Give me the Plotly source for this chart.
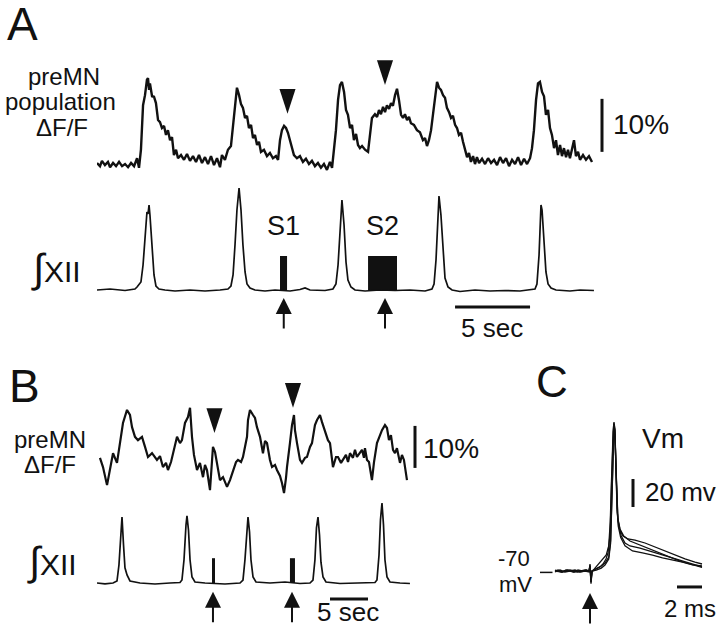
import plotly.graph_objects as go

W, H = 720, 630
FONT = "Liberation Sans, Arial, sans-serif"
INK = "#111111"

# ---- panel A: preMN population dF/F (time s, %) ----
dff_a_t = [0.0, 0.2, 0.33, 0.53, 0.73, 0.87, 1.07, 1.27, 1.47, 1.67, 1.87, 2.07, 2.27, 2.47, 2.67, 2.8,
           2.93, 3.07, 3.2, 3.33, 3.4, 3.47, 3.53, 3.67, 3.8, 3.93, 4.07, 4.2, 4.33, 4.47, 4.6, 4.73,
           4.87, 5.0, 5.13, 5.27, 5.4, 5.6, 5.8, 6.0, 6.2, 6.4, 6.6, 6.8, 7.0, 7.2, 7.4, 7.6, 7.8, 8.0,
           8.2, 8.33, 8.53, 8.73, 8.93, 9.07, 9.2, 9.33, 9.47, 9.6, 9.73, 9.87, 10.0, 10.13, 10.27, 10.4,
           10.53, 10.67, 10.8, 10.93, 11.13, 11.33, 11.53, 11.73, 11.93, 12.07, 12.2, 12.33, 12.47, 12.6,
           12.73, 12.87, 13.0, 13.13, 13.33, 13.53, 13.73, 13.93, 14.13, 14.33, 14.53, 14.73, 14.93,
           15.13, 15.33, 15.53, 15.67, 15.8, 15.93, 16.07, 16.2, 16.33, 16.47, 16.6, 16.73, 16.87, 17.0,
           17.13, 17.27, 17.4, 17.53, 17.67, 17.87, 18.07, 18.2, 18.33, 18.53, 18.67, 18.8, 18.93, 19.07,
           19.2, 19.33, 19.47, 19.6, 19.73, 19.87, 20.0, 20.13, 20.27, 20.4, 20.53, 20.67, 20.8, 20.93,
           21.13, 21.33, 21.53, 21.73, 21.87, 22.0, 22.13, 22.27, 22.4, 22.53, 22.67, 22.8, 22.93, 23.07,
           23.2, 23.33, 23.47, 23.6, 23.73, 23.87, 24.0, 24.13, 24.27, 24.4, 24.53, 24.67, 24.8, 24.93,
           25.07, 25.2, 25.33, 25.47, 25.67, 25.87, 26.07, 26.27, 26.47, 26.67, 26.87, 27.07, 27.27,
           27.47, 27.67, 27.87, 28.07, 28.27, 28.47, 28.67, 28.87, 29.0, 29.13, 29.27, 29.4, 29.53,
           29.67, 29.8, 29.93, 30.07, 30.2, 30.33, 30.47, 30.6, 30.73, 30.87, 31.0, 31.13, 31.27, 31.4,
           31.53, 31.67, 31.8, 31.93, 32.07, 32.2, 32.4, 32.6, 32.8, 33.0]
dff_a = [0.0, -0.6, 0.4, -0.4, 0.2, -0.8, 0.0, -0.6, 0.2, -0.6, -0.2, -0.8, 0.0, -0.6, 0.9, -0.9,
         2.5, 10.9, 12.8, 15.7, 16.0, 13.8, 15.0, 12.6, 12.5, 11.3, 8.1, 7.7, 6.6, 7.0, 5.3, 6.2,
         4.3, 4.9, 1.5, 2.5, 0.9, 1.5, 0.6, 1.7, 0.4, 1.3, 0.2, 1.5, 0.0, 1.1, -0.2, 1.3, -0.4, 0.9,
         -0.8, 1.5, 0.6, 2.5, 3.2, 7.2, 11.9, 14.2, 12.8, 11.1, 10.4, 8.5, 8.9, 6.6, 7.2, 4.7,
         5.3, 3.4, 4.0, 2.1, 2.5, 1.3, 1.9, 0.9, 1.3, 0.6, 4.3, 6.2, 7.0, 6.6,
         5.7, 4.3, 2.5, 1.5, 0.9, 1.3, 0.2, 0.8, -0.2, 0.4, -0.6, 0.0, -0.9,
         -0.2, -1.3, 0.2, -0.9, 2.5, 6.2, 11.9, 14.7, 15.3, 13.4, 10.0, 9.1, 6.6, 7.2,
         4.3, 5.5, 3.4, 2.8, 3.2, 2.5, 2.1, 5.3, 8.5, 9.2, 8.7, 10.0, 9.2, 10.6,
         9.6, 10.9, 10.2, 11.3, 10.8, 12.8, 14.0, 11.9, 9.1, 8.5, 9.2, 8.1, 8.7, 7.5,
         7.2, 6.2, 5.8, 4.3, 4.7, 3.2, 4.3, 6.2, 9.1, 12.8, 15.3, 14.2, 13.8, 12.8,
         12.3, 10.4, 9.6, 8.5, 8.9, 7.2, 6.6, 5.3, 5.7, 4.0, 2.5, 1.1, 1.9, 0.2,
         1.3, -0.2, 1.1, 0.0, 0.8, -0.2, 0.9, 0.0, 0.6, -0.4, 1.1, 0.0, 0.9,
         -0.6, 0.6, -0.2, 1.1, -0.4, 0.8, -0.2, 0.9, 2.8, 6.2, 11.9, 15.0, 15.3,
         13.4, 12.6, 9.1, 10.0, 6.6, 5.3, 2.8, 4.3, 1.5, 3.4, 1.3, 2.8, 1.1, 2.5,
         0.9, 2.8, 4.3, 1.3, 2.1, 0.6, 1.5, 0.6, 1.3, 0.2]

# ---- panel A: integrated XII (time s, normalised) ----
xii_a_t = [0.0, 0.87, 1.87, 2.53, 2.67, 2.8, 2.93, 3.07, 3.2, 3.33, 3.4, 3.47, 3.53, 3.67, 3.8, 3.93,
           4.13, 4.53, 5.2, 6.2, 7.2, 8.2, 8.73, 8.93, 9.07, 9.2, 9.33, 9.47, 9.6, 9.73, 9.87, 10.0,
           10.2, 10.53, 11.2, 11.87, 12.87, 13.53, 13.87, 14.2, 15.2, 15.73, 15.93, 16.07, 16.2, 16.33,
           16.47, 16.6, 16.73, 16.93, 17.2, 17.87, 18.87, 19.87, 20.87, 21.87, 22.33, 22.47, 22.6,
           22.73, 22.8, 22.93, 23.07, 23.2, 23.4, 23.67, 24.2, 25.2, 26.2, 27.2, 28.2, 28.87, 29.2,
           29.33, 29.47, 29.53, 29.6, 29.67, 29.8, 29.93, 30.07, 30.27, 30.6, 31.53, 32.2, 33.13]
xii_a = [0.0, 0.01, -0.005, 0.01, 0.03, 0.05, 0.08, 0.25, 0.55, 0.78, 0.76, 0.85, 0.75, 0.45, 0.15, 0.04,
         0.01, 0.0, -0.01, 0.0, -0.01, 0.0, 0.01, 0.04, 0.15, 0.45, 0.8, 1.02, 0.8, 0.45, 0.18, 0.06,
         0.02, 0.0, -0.01, 0.0, -0.01, 0.005, 0.02, 0.0, -0.005, 0.01, 0.06, 0.25, 0.65, 0.9,
         0.65, 0.28, 0.1, 0.03, 0.0, -0.01, 0.0, -0.005, 0.0, -0.01, 0.01, 0.06, 0.3,
         0.75, 0.94, 0.75, 0.35, 0.12, 0.03, 0.0, -0.015, 0.0, -0.01, -0.005, -0.01, 0.0, 0.01,
         0.06, 0.35, 0.58, 0.85, 0.8, 0.45, 0.18, 0.06, 0.02, 0.0, -0.01, 0.0, -0.005]

stim_a_on = [12.2, 18.07]
stim_a_off = [12.67, 20.0]
stim_a_amp = 0.34
stim_a_labels = ["S1", "S2"]
arrow_a_t = [12.45, 19.2]
mark_a_t = [12.7, 19.2]
mark_a_level = [9.3, 14.7]

# ---- panel B ----
dff_b_t = [0.39, 0.79, 1.32, 1.71, 2.11, 2.63, 3.03, 3.42, 3.95, 4.34, 4.61, 5.0, 5.39, 5.92, 6.32,
           6.71, 7.24, 7.89, 8.29, 8.68, 9.08, 9.34, 9.74, 10.0, 10.26, 10.53, 10.92, 11.18, 11.58,
           11.97, 12.24, 12.5, 12.76, 13.16, 13.55, 13.95, 14.21, 14.47, 14.87, 15.13, 15.26, 15.53,
           15.79, 16.18, 16.58, 17.11, 17.5, 17.89, 18.29, 18.55, 18.95, 19.21, 19.47, 19.74, 19.87,
           20.13, 20.53, 20.79, 21.05, 21.45, 21.84, 22.11, 22.37, 22.76, 23.03, 23.42, 23.68, 24.08,
           24.34, 24.61, 24.87, 25.0, 25.39, 25.66, 25.92, 26.05, 26.32, 26.71, 26.97, 27.37, 27.63,
           28.03, 28.29, 28.68, 28.95, 29.34, 29.61, 30.0, 30.39, 30.66, 31.05, 31.45, 31.71, 32.11,
           32.37, 32.76, 33.03, 33.29, 33.68, 33.95, 34.21, 34.61, 34.87, 35.13, 35.26, 35.53, 35.79,
           36.18, 36.45, 36.84, 37.11, 37.5, 37.89, 38.16, 38.42, 38.68, 38.95, 39.21, 39.47, 39.87,
           40.13, 40.39, 40.79]
dff_b = [2.9, 0.7, -3.6, 0.0, 4.0, 1.7, 6.7, 11.2, 14.3, 13.1, 10.2, 7.9, 7.1, 7.9, 5.5,
         3.1, 4.0, 2.4, 3.3, 0.7, 1.7, 0.0, 1.9, 4.0, 6.0, 7.9, 6.4, 7.1, 11.2,
         12.6, 14.8, 7.9, 3.6, 0.0, 1.7, -1.7, 1.2, 0.0, -4.8, 1.9, 5.5, 4.3,
         1.7, -2.4, -1.7, -4.0, -2.4, 0.0, 1.9, 2.4, 1.9, 3.1, 6.0, 7.9, 11.9,
         14.3, 13.1, 12.4, 10.2, 7.9, 4.0, 6.9, 6.4, 2.4, 0.7, 1.2, 0.0, -1.4,
         -3.1, -5.5, -1.9, 0.7, 6.4, 10.7, 13.1, 9.5, 6.4, 2.4, 1.7, 2.9, 3.1,
         5.5, 6.4, 10.7, 11.9, 13.1, 11.4, 9.5, 7.1, 6.4, 0.7, 3.1, 3.1, 1.7,
         2.4, 3.6, 1.9, 4.0, 2.9, 4.8, 3.1, 4.3, 4.8, 2.9, 5.2, 2.4, 1.9,
         -2.4, 1.9, 6.4, 7.9, 9.5, 10.7, 10.0, 7.1, 8.3, 4.8, 4.0, 5.2, 1.7,
         3.6, 2.4, -2.4]

xii_b_t = [0.0, 1.05, 2.11, 2.63, 2.89, 3.09, 3.29, 3.49, 3.68, 3.95, 4.34, 5.66, 7.63, 9.61, 10.92,
           11.18, 11.45, 11.71, 11.84, 12.04, 12.24, 12.5, 12.89, 14.21, 16.84, 18.82, 19.21, 19.47,
           19.74, 19.87, 20.07, 20.26, 20.53, 20.92, 22.76, 24.74, 26.71, 28.03, 28.42, 28.68, 28.88,
           29.08, 29.28, 29.47, 29.74, 30.13, 31.97, 34.61, 36.58, 36.84, 37.11, 37.3, 37.5, 37.7,
           37.89, 38.16, 38.55, 39.87, 41.18]
xii_b = [0.0, -0.01, 0.0, 0.025, 0.225, 0.54, 0.825, 0.475, 0.19, 0.1, 0.025, 0.0, -0.0125, 0.0, 0.006,
         0.0375, 0.29, 0.725, 0.84, 0.66, 0.29, 0.075, 0.0125, 0.0, -0.0125, 0.0, 0.0375, 0.29,
         0.725, 0.825, 0.64, 0.29, 0.075, 0.0125, 0.0, 0.0125, -0.006, 0.0, 0.0375, 0.29, 0.69,
         0.825, 0.6, 0.26, 0.075, 0.0125, -0.006, 0.0, 0.006, 0.0375, 0.35, 0.79, 1.0, 0.725,
         0.29, 0.075, 0.0125, 0.0, -0.006]

stim_b_on = [15.13, 25.39]
stim_b_off = [15.53, 26.05]
stim_b_amp = 0.31
arrow_b_t = [15.26, 25.66]
mark_b_t = [15.46, 25.79]
mark_b_level = [8.8, 14.8]

# ---- panel C: Vm sweeps (ms, mV) ----
vm_t1 = [0.0, 0.24, 0.56, 0.88, 1.2, 1.52, 1.84, 2.16, 2.48, 2.72, 2.8, 2.88, 2.96, 3.28, 3.6, 3.84,
         4.08, 4.24, 4.4, 4.48, 4.56, 4.64, 4.72, 4.8, 4.88, 4.96, 5.04, 5.2, 5.44, 5.84, 6.4, 7.2,
         8.0, 8.8, 9.6, 10.4, 11.2, 11.76]
vm_1 = [-70.0, -69.3, -70.7, -69.3, -70.0, -70.7, -69.3, -70.0, -69.3, -70.0, -66.4, -77.9, -70.0,
        -68.6, -67.1, -65.0, -61.4, -57.1, -44.3, -22.9, 5.7, 29.3, 36.4, 30.7, 2.1, -22.9, -33.6,
        -40.7, -45.0, -47.1, -47.9, -50.0, -52.9, -55.7, -58.6, -61.4, -63.6, -65.0]
vm_t2 = [0.0, 0.4, 0.8, 1.2, 1.6, 2.0, 2.4, 2.72, 2.8, 2.88, 2.96, 3.3, 3.7, 4.0, 4.3, 4.45, 4.55,
         4.63, 4.7, 4.74, 4.8, 4.9, 4.98, 5.1, 5.3, 5.6, 6.0, 6.8, 7.6, 8.4, 9.2, 10.0, 10.8, 11.6, 11.76]
vm_2 = [-70.7, -69.3, -70.7, -70.0, -69.3, -70.7, -70.0, -70.0, -65.0, -76.4, -70.0, -69.3, -67.9,
        -65.7, -61.4, -50.0, -25.0, 5.0, 30.0, 35.0, 28.0, -5.0, -28.0, -38.0, -45.0, -50.0, -52.1,
        -53.6, -55.7, -57.9, -60.0, -62.1, -64.3, -66.4, -67.0]
vm_t3 = [0.0, 0.5, 1.0, 1.5, 2.0, 2.5, 2.72, 2.8, 2.88, 2.96, 3.2, 3.5, 3.8, 4.1, 4.3, 4.42, 4.52,
         4.62, 4.7, 4.78, 4.86, 4.94, 5.02, 5.2, 5.5, 6.0, 6.8, 7.6, 8.4, 9.2, 10.0, 10.8, 11.6, 11.76]
vm_3 = [-69.3, -70.7, -69.3, -70.7, -70.0, -69.3, -70.0, -67.0, -79.0, -70.7, -67.9, -65.0, -62.1,
        -58.6, -52.0, -35.0, -5.0, 25.0, 35.5, 31.0, 5.0, -20.0, -32.0, -40.0, -45.0, -48.6, -51.4,
        -54.3, -57.1, -60.0, -62.9, -65.0, -67.1, -67.5]
vm_t4 = [0.0, 0.6, 1.2, 1.8, 2.4, 2.72, 2.8, 2.88, 2.96, 3.3, 3.7, 4.0, 4.3, 4.45, 4.55, 4.64, 4.72,
         4.8, 4.88, 4.96, 5.06, 5.25, 5.6, 6.2, 7.0, 7.8, 8.6, 9.4, 10.2, 11.0, 11.76]
vm_4 = [-70.0, -70.7, -69.3, -70.7, -70.0, -70.7, -66.0, -78.0, -70.0, -68.6, -66.4, -64.3, -60.0,
        -48.0, -20.0, 15.0, 34.0, 27.0, 0.0, -25.0, -38.0, -46.0, -52.0, -55.7, -57.1, -58.6, -60.7,
        -62.1, -63.6, -65.7, -66.4]
arrow_c_t = [2.8]
rest_mv = -70

fig = go.Figure()


def xdom(a, b):
    return [a / W, b / W]


def ydom(top, bottom):
    return [1 - bottom / H, 1 - top / H]


def line(x, y, xa, ya, w=2.0):
    fig.add_trace(go.Scatter(x=x, y=y, xaxis=xa, yaxis=ya, mode="lines",
                             line=dict(color=INK, width=w), hoverinfo="skip"))


def stim_bars(on, off, amp, xa, ya):
    fig.add_trace(go.Bar(x=[(a + b) / 2 for a, b in zip(on, off)], y=[amp] * len(on),
                         width=[b - a for a, b in zip(on, off)], xaxis=xa, yaxis=ya,
                         marker=dict(color=INK, line=dict(width=0)), hoverinfo="skip"))


def marks(t, lv, xa, ya):
    fig.add_trace(go.Scatter(x=t, y=lv, xaxis=xa, yaxis=ya, mode="markers",
                             marker=dict(symbol="arrow", angle=180, size=26, color=INK),
                             hoverinfo="skip"))


line(dff_a_t, dff_a, "x", "y", 2.4)
line(xii_a_t, xii_a, "x", "y2", 1.7)
stim_bars(stim_a_on, stim_a_off, stim_a_amp, "x", "y2")
marks(mark_a_t, mark_a_level, "x", "y")

line(dff_b_t, dff_b, "x3", "y3", 2.2)
line(xii_b_t, xii_b, "x3", "y4", 1.7)
stim_bars(stim_b_on, stim_b_off, stim_b_amp, "x3", "y4")
marks(mark_b_t, mark_b_level, "x3", "y3")

for tt, vv in [(vm_t1, vm_1), (vm_t2, vm_2), (vm_t3, vm_3), (vm_t4, vm_4)]:
    line(tt, vv, "x5", "y5", 1.3)

ax = dict(visible=False, showgrid=False, zeroline=False, fixedrange=True)
fig.update_layout(
    width=W, height=H, margin=dict(l=0, r=0, t=0, b=0),
    paper_bgcolor="white", plot_bgcolor="white", showlegend=False,
    font=dict(family=FONT, color=INK),
    xaxis=dict(domain=xdom(97, 595), range=[0, 33.2], anchor="y", **ax),
    yaxis=dict(domain=ydom(50, 180), range=[-3.21, 21.32], anchor="x", **ax),
    yaxis2=dict(domain=ydom(180, 340), range=[-0.5, 1.1], anchor="x", **ax),
    xaxis3=dict(domain=xdom(97, 412), range=[0, 41.45], anchor="y3", **ax),
    yaxis3=dict(domain=ydom(375, 500), range=[-7.14, 22.62], anchor="x3", **ax),
    yaxis4=dict(domain=ydom(500, 630), range=[-0.5875, 1.0375], anchor="x3", **ax),
    xaxis5=dict(domain=xdom(540, 720), range=[-1.2, 13.2], anchor="y5", **ax),
    yaxis5=dict(domain=ydom(415, 630), range=[-112.14, 41.43], anchor="x5", **ax),
)

bar = dict(color=INK, width=3)
shapes = [
    # A: 10 % and 5 s scale bars
    dict(type="line", xref="paper", yref="y", x0=602 / W, x1=602 / W, y0=2.1, y1=12.1, line=bar),
    dict(type="line", xref="x", yref="y2", x0=23.87, x1=23.87 + 5, y0=-0.17, y1=-0.17, line=bar),
    # B
    dict(type="line", xref="paper", yref="y3", x0=415 / W, x1=415 / W, y0=0.5, y1=10.5, line=bar),
    dict(type="line", xref="x3", yref="y4", x0=30.66, x1=30.66 + 5, y0=-0.2, y1=-0.2, line=bar),
    # C: 20 mV, 2 ms, resting level tick
    dict(type="line", xref="paper", yref="y5", x0=633 / W, x1=633 / W, y0=-24.3, y1=-4.3, line=bar),
    dict(type="line", xref="x5", yref="y5", x0=9.76, x1=9.76 + 2, y0=-81.4, y1=-81.4, line=bar),
    dict(type="line", xref="x5", yref="y5", x0=-1.2, x1=-0.2, y0=rest_mv - 1, y1=rest_mv - 1,
         line=dict(color=INK, width=1.5)),
]
fig.update_layout(shapes=shapes)

ann = []


def txt(s, x, y, size, xanchor="center"):
    ann.append(dict(text=s, x=x / W, y=1 - y / H, xref="paper", yref="paper", showarrow=False,
                    xanchor=xanchor, yanchor="middle", font=dict(size=size, family=FONT, color=INK)))


def up_arrow(t, tip, xa, ya):
    ann.append(dict(text="", x=t, y=tip, xref=xa, yref=ya, ax=0, ay=32, showarrow=True,
                    arrowhead=2, arrowsize=1.6, arrowwidth=2, arrowcolor=INK, standoff=0))


INTEG = "<span style='font-size:40px'>∫</span>XII"

txt("A", 22, 24, 46)
txt("preMN", 64, 76, 24)
txt("population", 60, 102, 24)
txt("ΔF/F", 62, 128, 24)
txt("10%", 611, 125, 28, "left")
txt(INTEG, 56, 268, 30)
for lab, a, b in zip(stim_a_labels, stim_a_on, stim_a_off):
    ann.append(dict(text=lab, x=(a + b) / 2, y=1 - 226 / H, xref="x", yref="paper", showarrow=False,
                    font=dict(size=27, family=FONT, color=INK)))
txt("5 sec", 492, 328, 26)
for t in arrow_a_t:
    up_arrow(t, -0.08, "x", "y2")

txt("B", 24, 386, 46)
txt("preMN", 50, 439, 24)
txt("ΔF/F", 50, 464, 24)
txt("10%", 421, 448, 28, "left")
txt(INTEG, 52, 561, 30)
txt("5 sec", 348, 612, 26)
for t in arrow_b_t:
    up_arrow(t, -0.11, "x3", "y4")

txt("C", 552, 381, 44)
txt("Vm", 663, 438, 28)
txt("20 mv", 643, 492, 26, "left")
txt("-70", 514, 558, 22)
txt("mV", 515, 584, 22)
txt("2 ms", 690, 608, 24)
for t in arrow_c_t:
    up_arrow(t, -85.7, "x5", "y5")

fig.update_layout(annotations=ann)
fig.write_html("out.html", config={"displayModeBar": False},
               post_script="document.body.style.margin='0';")
